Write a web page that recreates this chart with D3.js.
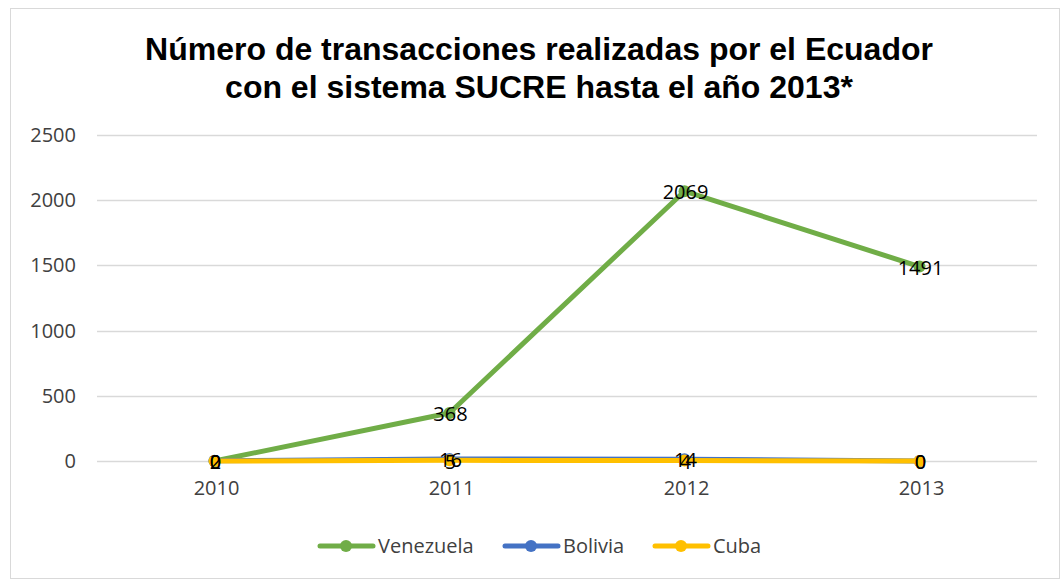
<!DOCTYPE html>
<html>
<head>
<meta charset="utf-8">
<style>
  body { margin: 0; background: #fff; }
  svg { display: block; }
</style>
</head>
<body>
<svg width="1060" height="579"></svg>
<script src="https://d3js.org/d3.v7.min.js"></script>
<script>
// data
const years = ["2010", "2011", "2012", "2013"];
const venezuela = [0, 368, 2069, 1491];
const bolivia = [2, 16, 14, 0];
const cuba = [0, 5, 4, 0];
const yTicks = [0, 500, 1000, 1500, 2000, 2500];
const seriesNames = ["Venezuela", "Bolivia", "Cuba"];
const seriesColors = ["#70AD47", "#4472C4", "#FFC000"];

const svg = d3.select("svg"),
    width = +svg.attr("width"),
    height = +svg.attr("height");

const bodyFont = "'Open Sans', sans-serif";

// chart frame
svg.append("rect")
  .attr("x", 10.5).attr("y", 8.5)
  .attr("width", width - 11).attr("height", height - 9)
  .attr("fill", "#fff").attr("stroke", "#d9d9d9");

// title
const title = svg.append("text")
  .attr("x", 539).attr("y", 60)
  .attr("text-anchor", "middle")
  .style("font-family", "'Liberation Sans', Arial, sans-serif")
  .style("font-weight", "bold")
  .style("font-size", "32px")
  .attr("fill", "#000");
title.append("tspan").attr("x", 539).attr("dy", 0).text("Número de transacciones realizadas por el Ecuador");
title.append("tspan").attr("x", 539).attr("dy", 38).text("con el sistema SUCRE hasta el año 2013*");

// scales
const x = d3.scaleBand().domain(years).range([97, 1037]);
const y = d3.scaleLinear().domain([0, 2500]).range([461, 135]);

// gridlines
svg.append("g")
  .selectAll("line")
  .data(yTicks)
  .enter().append("line")
  .attr("x1", 97).attr("x2", 1037)
  .attr("y1", d => Math.round(y(d)) + 0.5)
  .attr("y2", d => Math.round(y(d)) + 0.5)
  .attr("stroke", "#d9d9d9").attr("stroke-width", 1.5);

// y axis labels
const yAxis = svg.append("g")
  .attr("transform", "translate(76,0)")
  .call(d3.axisLeft(y).tickValues(yTicks).tickFormat(d3.format("d")).tickSize(0).tickPadding(0));
yAxis.select(".domain").remove();
yAxis.selectAll("text")
  .style("font-family", bodyFont)
  .style("font-size", "20px")
  .attr("fill", "#404040");

// x axis labels
const xAxis = svg.append("g")
  .attr("transform", "translate(2,478)")
  .call(d3.axisBottom(x).tickSize(0).tickPadding(3));
xAxis.select(".domain").remove();
xAxis.selectAll("text")
  .style("font-family", bodyFont)
  .style("font-size", "20px")
  .attr("fill", "#404040");

const cx = d => x(d) + x.bandwidth() / 2;
const allSeries = [venezuela, bolivia, cuba];

const line = d3.line()
  .x((d, i) => cx(years[i]))
  .y(d => y(d));

// lines + markers
allSeries.forEach(function(vals, s) {
  const g = svg.append("g");
  g.append("path")
    .datum(vals)
    .attr("d", line)
    .attr("fill", "none")
    .attr("stroke", seriesColors[s])
    .attr("stroke-width", 5)
    .attr("stroke-linejoin", "round")
    .attr("stroke-linecap", "round");
  g.selectAll("circle")
    .data(vals)
    .enter().append("circle")
    .attr("cx", (d, i) => cx(years[i]))
    .attr("cy", d => y(d))
    .attr("r", 6)
    .attr("fill", seriesColors[s]);
});

// data labels
allSeries.forEach(function(vals, s) {
  svg.append("g")
    .selectAll("text")
    .data(vals)
    .enter().append("text")
    .attr("x", (d, i) => cx(years[i]) + 1)
    .attr("y", d => y(d) + 1)
    .attr("dy", "0.36em")
    .attr("text-anchor", "middle")
    .style("font-family", bodyFont)
    .style("font-size", "20px")
    .attr("fill", "#000")
    .text(d => d);
});

// legend
const legendX = [318, 503, 653];
const legend = svg.append("g");
seriesNames.forEach(function(name, i) {
  const lg = legend.append("g").attr("transform", "translate(" + legendX[i] + ",546)");
  lg.append("line")
    .attr("x1", 2).attr("x2", 55)
    .attr("stroke", seriesColors[i]).attr("stroke-width", 5)
    .attr("stroke-linecap", "round");
  lg.append("circle").attr("cx", 28).attr("r", 6).attr("fill", seriesColors[i]);
  lg.append("text")
    .attr("x", 60).attr("dy", "0.36em")
    .style("font-family", bodyFont)
    .style("font-size", "20px")
    .attr("fill", "#404040")
    .text(name);
});
</script>
</body>
</html>
